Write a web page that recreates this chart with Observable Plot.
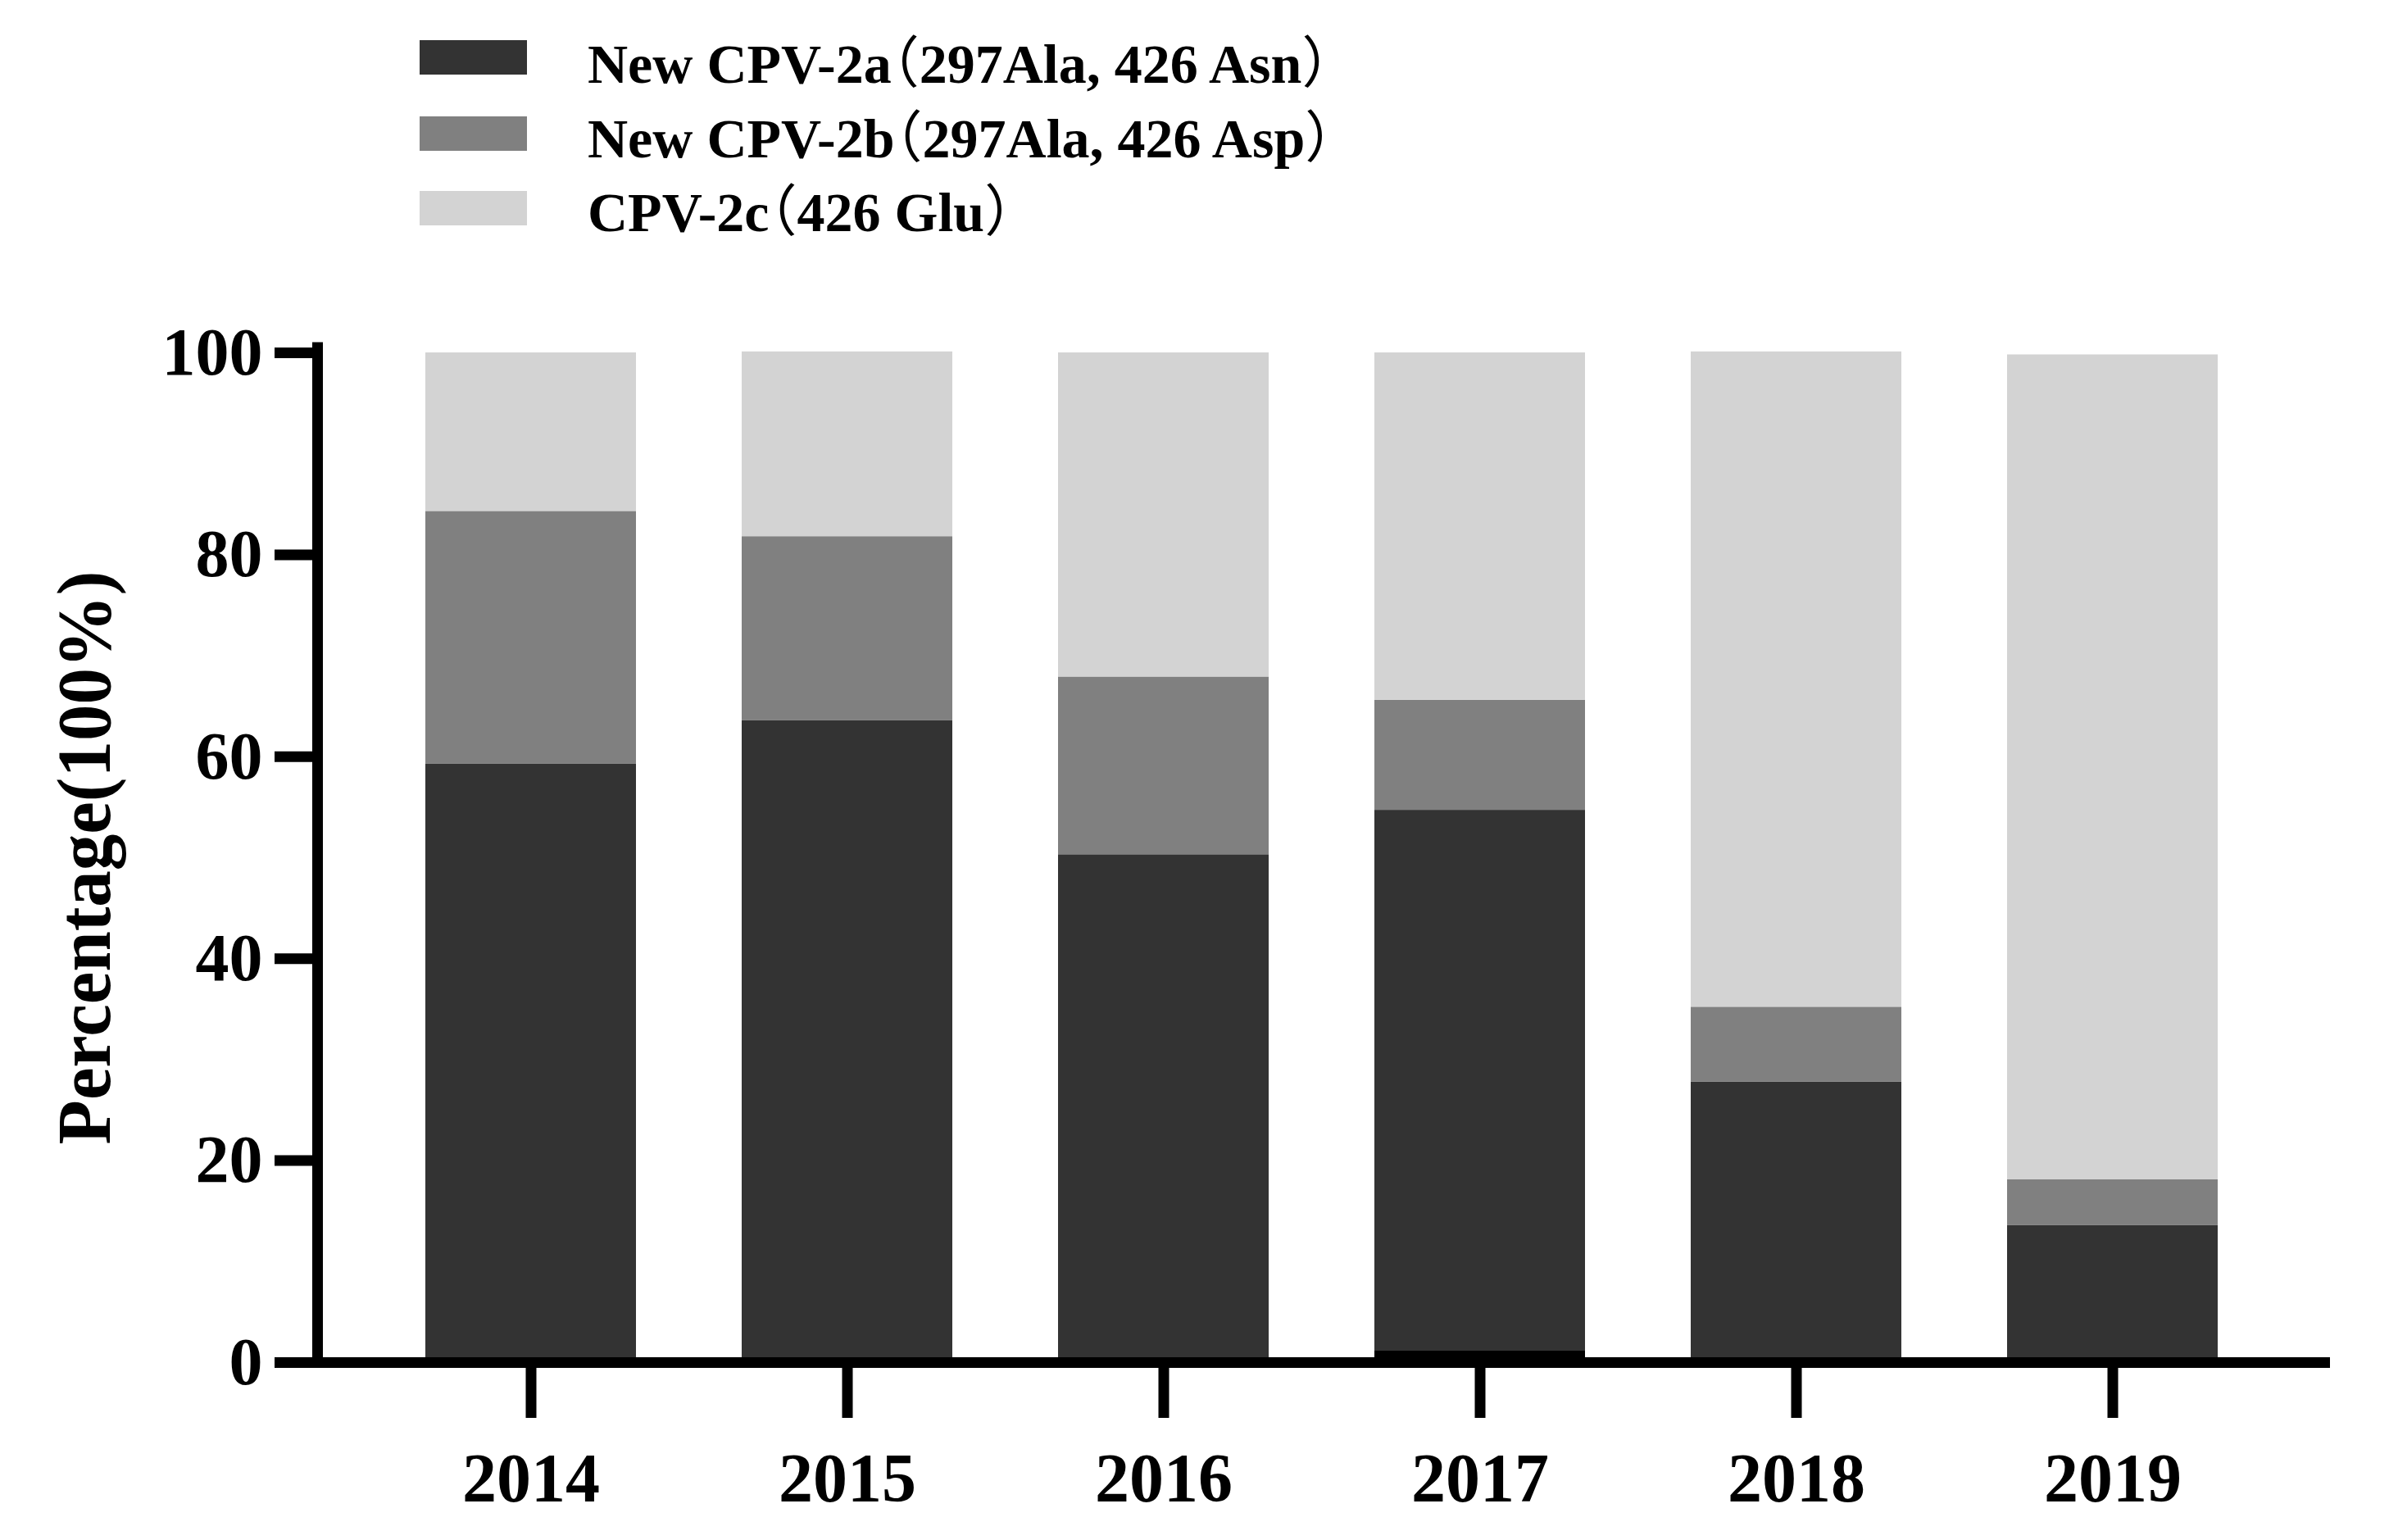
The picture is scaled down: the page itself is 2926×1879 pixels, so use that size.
<!DOCTYPE html>
<html><head><meta charset="utf-8">
<script src="https://cdn.jsdelivr.net/npm/d3@7"></script>
<script src="https://cdn.jsdelivr.net/npm/@observablehq/plot@0.6"></script>
<style>
html,body{margin:0;padding:0;background:#fff;}
#legend{position:relative;width:2926px;height:330px;font-family:"Liberation Serif","Noto Sans CJK SC",serif;font-weight:bold;font-size:68px;color:#000;}
.sw{position:absolute;left:512px;width:131px;height:42px;}
.lt{position:absolute;left:717px;line-height:1;white-space:nowrap;}
.lp,.rp{font-family:"Noto Sans CJK SC";font-weight:normal;font-feature-settings:"halt" 1;}
#chart svg{display:block;}
</style></head><body>
<div id="legend"></div>
<div id="chart"></div>
<script>
const years = ["2014", "2015", "2016", "2017", "2018", "2019"];
const seriesNames = ["other", "New CPV-2a（297Ala, 426 Asn）", "New CPV-2b（297Ala, 426 Asp）", "CPV-2c（426 Glu）"];
const seriesColors = ["#000000", "#333333", "#808080", "#d3d3d3"];
const otherValues = [0, 0, 0, 1.2, 0, 0];
const cpv2aValues = [59.3, 63.6, 50.3, 53.5, 27.8, 13.6];
const cpv2bValues = [25.0, 18.2, 17.6, 10.9, 7.4, 4.5];
const cpv2cValues = [15.7, 18.3, 32.1, 34.4, 64.9, 81.7];
const yTicks = [0, 20, 40, 60, 80, 100];
const yLabel = "Percentage(100%)";
const legendSeries = [1, 2, 3];

const seriesValues = [otherValues, cpv2aValues, cpv2bValues, cpv2cValues];
const data = [];
seriesNames.forEach((s, i) => years.forEach((y, j) => data.push({year: y, series: s, value: seriesValues[i][j]})));

// legend (HTML, above the plot)
const legend = document.getElementById("legend");
const swTops = [49, 142, 233];
const txtTops = [38, 129, 219];
legendSeries.forEach((si, k) => {
  const sw = document.createElement("div");
  sw.className = "sw";
  sw.style.top = swTops[k] + "px";
  sw.style.background = seriesColors[si];
  legend.appendChild(sw);
  const t = document.createElement("div");
  t.className = "lt";
  t.style.top = txtTops[k] + "px";
  const name = seriesNames[si];
  const a = name.indexOf("（"), b = name.indexOf("）");
  t.appendChild(document.createTextNode(name.slice(0, a)));
  const lp = document.createElement("span"); lp.className = "lp"; lp.textContent = "（"; t.appendChild(lp);
  t.appendChild(document.createTextNode(name.slice(a + 1, b)));
  const rp = document.createElement("span"); rp.className = "rp"; rp.textContent = "）"; t.appendChild(rp);
  legend.appendChild(t);
});

const fontFamily = "Liberation Serif";
const plot = Plot.plot({
  width: 2926,
  height: 1549,
  marginLeft: 387,
  marginRight: 88,
  marginTop: 100,
  marginBottom: 217,
  x: {domain: years, padding: 1/3, axis: null},
  y: {domain: [0, 100], axis: null},
  color: {domain: seriesNames, range: seriesColors},
  style: {background: "#fff", fontFamily: fontFamily, color: "#000"},
  marks: [
    Plot.barY(data, {x: "year", y: "value", fill: "series"}),
    Plot.frame({anchor: "left", strokeWidth: 13, stroke: "#000", insetTop: -6.5}),
    Plot.ruleY([0], {strokeWidth: 13, stroke: "#000", insetLeft: -6.5, insetRight: -5}),
    Plot.axisY({ticks: yTicks, anchor: "left", tickSize: 52, tickPadding: 15, strokeWidth: 13, fontSize: 82, fontWeight: "bold", fontFamily: fontFamily, label: null, fill: "#000"}),
    Plot.axisX({anchor: "bottom", tickSize: 68, tickPadding: 42, strokeWidth: 13, fontSize: 84, fontWeight: "bold", fontFamily: fontFamily, label: null, fill: "#000"}),
    Plot.text([yLabel], {frameAnchor: "left", textAnchor: "middle", lineAnchor: "middle", rotate: -90, dx: 133 - 387 - 0.32 * 94, fontSize: 94, fontWeight: "bold", fontFamily: fontFamily, fill: "#000"})
  ]
});
document.getElementById("chart").appendChild(plot);
// condense the y-axis title to match the reference's narrow face
plot.querySelectorAll("text").forEach(el => {
  if (el.textContent === yLabel) {
    const len = el.getComputedTextLength();
    const s = 700 / len;
    const tr = el.getAttribute("transform") || "";
    el.setAttribute("transform", tr + " scale(" + s + ",1)");
  }
});
</script>
</body></html>
